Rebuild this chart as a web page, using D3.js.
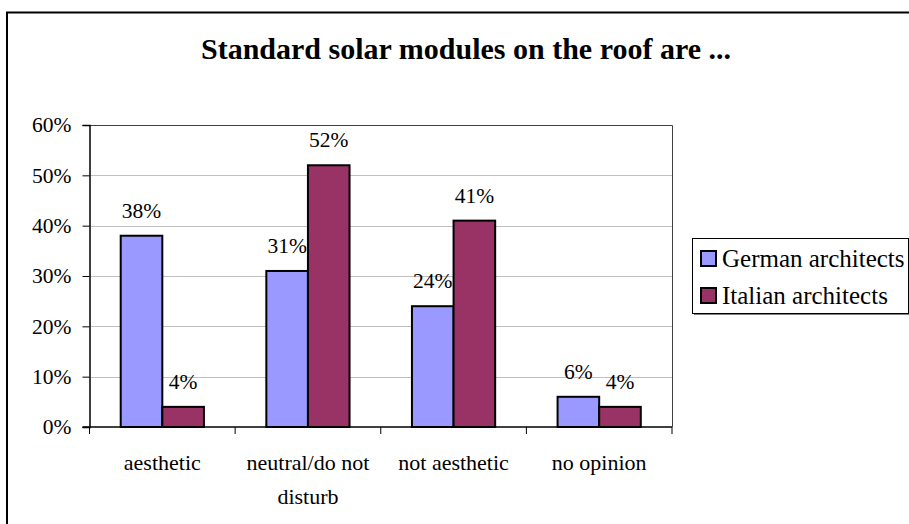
<!DOCTYPE html>
<html>
<head>
<meta charset="utf-8">
<script src="https://cdn.jsdelivr.net/npm/d3@7"></script>
<style>
  html, body { margin: 0; padding: 0; background: #fff; }
  svg { display: block; }
  svg, svg text { font-family: "Liberation Serif", "Times New Roman", Times, serif !important; }
  text { fill: #000; }
</style>
</head>
<body>
<svg id="chart" width="909" height="524" font-family="Liberation Serif, Times New Roman, serif"></svg>
<script>
// Survey answers: "Standard solar modules on the roof are ..."
const categories = ["aesthetic", "neutral/do not disturb", "not aesthetic", "no opinion"];
const categoryLines = [["aesthetic"], ["neutral/do not", "disturb"], ["not aesthetic"], ["no opinion"]];
const seriesNames = ["German architects", "Italian architects"];
const germanValues = [38, 31, 24, 6];
const italianValues = [4, 52, 41, 4];
const yTicks = [0, 10, 20, 30, 40, 50, 60];
const seriesColors = ["#9999FF", "#993366"];

const seriesValues = [germanValues, italianValues];
const serif = "'Liberation Serif', 'Times New Roman', serif";

const svg = d3.select("#chart");

// Outer chart frame (runs past the right and bottom edges)
svg.append("rect")
  .attr("x", 7).attr("y", 12.5)
  .attr("width", 940).attr("height", 540)
  .attr("fill", "#fff").attr("stroke", "#000").attr("stroke-width", 2);

// Title
svg.append("text")
  .attr("x", 466).attr("y", 59)
  .attr("text-anchor", "middle")
  .style("font-family", serif)
  .style("font-size", "30px").style("font-weight", "bold")
  .text("Standard solar modules on the roof are ...");

// Plot area
const plot = { left: 89.5, right: 672, top: 125, bottom: 427 };

const x0 = d3.scaleBand()
  .domain(categories)
  .range([plot.left, plot.right])
  .paddingInner(0).paddingOuter(0);

const x1 = d3.scaleBand()
  .domain(seriesNames)
  .range([0, x0.bandwidth()])
  .paddingInner(0).paddingOuter(0.75);

const y = d3.scaleLinear().domain([0, 60]).range([plot.bottom, plot.top]);

// Horizontal gridlines
svg.append("g")
  .selectAll("line")
  .data(yTicks.filter(t => t > 0 && t < 60))
  .join("line")
  .attr("x1", plot.left).attr("x2", plot.right)
  .attr("y1", d => Math.round(y(d)) + 0.5).attr("y2", d => Math.round(y(d)) + 0.5)
  .attr("stroke", "#c0c0c0").attr("stroke-width", 1);

// Plot area border (top and right)
svg.append("path")
  .attr("d", `M${plot.left},${plot.top + 0.5}H${plot.right + 0.5}V${plot.bottom}`)
  .attr("fill", "none").attr("stroke", "#404040").attr("stroke-width", 1);

// Bars
const groups = svg.append("g")
  .selectAll("g")
  .data(categories)
  .join("g")
  .attr("transform", d => `translate(${x0(d)},0)`);

groups.selectAll("rect")
  .data((d, i) => seriesNames.map((s, j) => ({ series: s, value: seriesValues[j][i], color: seriesColors[j] })))
  .join("rect")
  .attr("x", d => x1(d.series))
  .attr("y", d => y(d.value))
  .attr("width", x1.bandwidth())
  .attr("height", d => y(0) - y(d.value))
  .attr("fill", d => d.color)
  .attr("stroke", "#000").attr("stroke-width", 2);

// Value labels
groups.selectAll("text.value")
  .data((d, i) => seriesNames.map((s, j) => ({ series: s, value: seriesValues[j][i] })))
  .join("text")
  .attr("class", "value")
  .attr("x", d => x1(d.series) + x1.bandwidth() / 2)
  .attr("y", d => y(d.value) - 18)
  .attr("text-anchor", "middle")
  .style("font-family", serif)
  .style("font-size", "21.5px")
  .text(d => d.value + "%");

// Y axis
const yAxis = d3.axisLeft(y)
  .tickValues(yTicks)
  .tickFormat(d => d + "%")
  .tickSize(7)
  .tickPadding(11);

const gy = svg.append("g")
  .attr("transform", `translate(${plot.left},0)`)
  .call(yAxis)
  .attr("font-family", serif);
gy.select(".domain").attr("stroke", "#000").attr("stroke-width", 1.5);
gy.selectAll(".tick line").attr("stroke", "#000");
gy.selectAll(".tick text")
  .style("font-size", "21.5px")
  .style("font-family", serif)
  .attr("fill", "#000");

// X axis: baseline with ticks at category boundaries
const boundaries = categories.map(c => x0(c)).concat([plot.right]);
svg.append("line")
  .attr("x1", plot.left - 7).attr("x2", plot.right)
  .attr("y1", plot.bottom).attr("y2", plot.bottom)
  .attr("stroke", "#000").attr("stroke-width", 1.5);
svg.append("g")
  .selectAll("line")
  .data(boundaries)
  .join("line")
  .attr("x1", d => d).attr("x2", d => d)
  .attr("y1", plot.bottom).attr("y2", plot.bottom + 7)
  .attr("stroke", "#000").attr("stroke-width", 1);

// Category labels
const catLabels = svg.append("g")
  .selectAll("text")
  .data(categories)
  .join("text")
  .attr("x", d => x0(d) + x0.bandwidth() / 2)
  .attr("y", 470)
  .attr("text-anchor", "middle")
  .style("font-family", serif)
  .style("font-size", "22px");
catLabels.selectAll("tspan")
  .data((d, i) => categoryLines[i])
  .join("tspan")
  .attr("x", function () { return this.parentNode.getAttribute("x"); })
  .attr("dy", (d, i) => i === 0 ? 0 : 34)
  .text(d => d);

// Legend
const legend = { x: 692, y: 238, w: 216, h: 75 };
svg.append("rect")
  .attr("x", legend.x + 2).attr("y", legend.y + 2)
  .attr("width", legend.w).attr("height", legend.h)
  .attr("fill", "#808080");
svg.append("rect")
  .attr("x", legend.x + 0.5).attr("y", legend.y + 0.5)
  .attr("width", legend.w).attr("height", legend.h)
  .attr("fill", "#fff").attr("stroke", "#000").attr("stroke-width", 1);

const items = svg.append("g")
  .selectAll("g")
  .data(seriesNames)
  .join("g")
  .attr("transform", (d, i) => `translate(${legend.x + 9},${legend.y + 13 + i * 37})`);
items.append("rect")
  .attr("width", 15).attr("height", 15)
  .attr("fill", (d, i) => seriesColors[i])
  .attr("stroke", "#000").attr("stroke-width", 2);
items.append("text")
  .attr("x", 21).attr("y", 16)
  .style("font-family", serif)
  .style("font-size", "25px")
  .text(d => d);
</script>
</body>
</html>
